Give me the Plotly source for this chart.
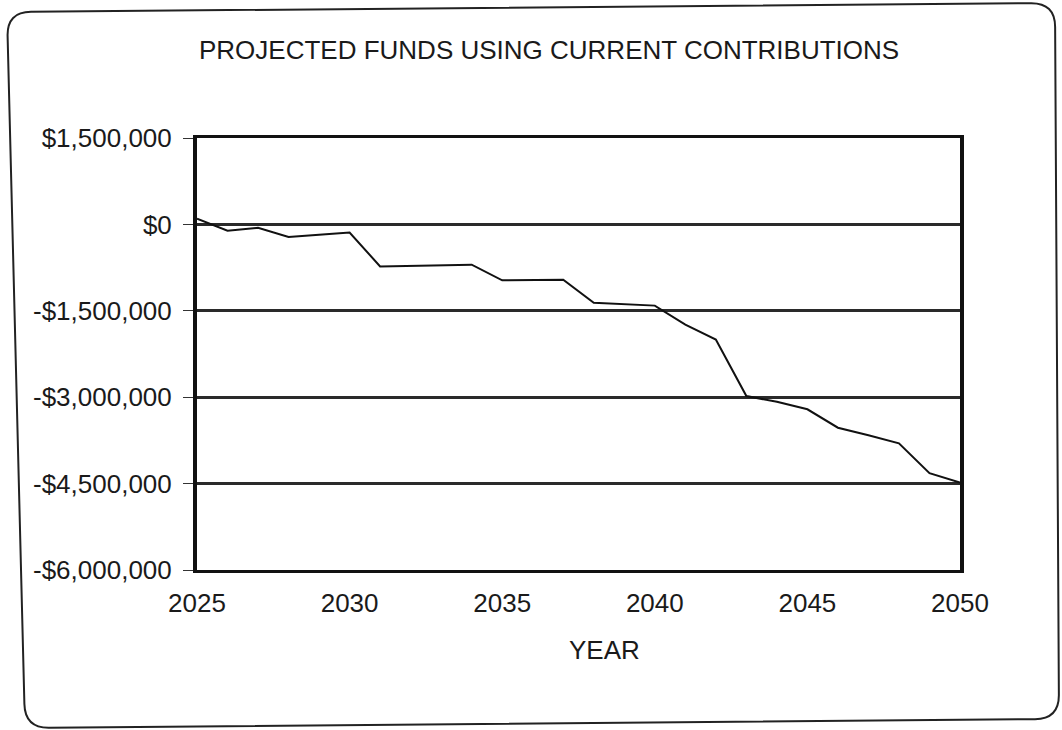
import plotly.graph_objects as go

# Projected fund balance by year (dollars)
years = list(range(2025, 2051))
balance = [
    100000, -110000, -60000, -220000, -180000, -140000,
    -730000, -720000, -700000, -700000, -970000, -960000,
    -960000, -1360000, -1380000, -1410000, -1740000, -2000000,
    -2980000, -3080000, -3210000, -3530000, -3660000, -3800000,
    -4320000, -4480000,
]

y_ticks = [1500000, 0, -1500000, -3000000, -4500000, -6000000]
y_tick_labels = ["$1,500,000", "$0", "-$1,500,000", "-$3,000,000",
                 "-$4,500,000", "-$6,000,000"]
x_ticks = [2025, 2030, 2035, 2040, 2045, 2050]
x_tick_labels = ["2025", "2030", "2035", "2040", "2045", "2050"]

W, H = 1062, 730
L, R, T, B = 197, 102, 138, 160
PW, PH = W - L - R, H - T - B

FONT = "Arial, Liberation Sans, sans-serif"
INK = "#1a1a1a"


def px(x):
    return (x - L) / PW


def py(y):
    return (H - B - y) / PH


def rounded_quad(corners, r):
    """SVG path (paper coords) for a quadrilateral with rounded corners."""
    n = len(corners)
    segs = []
    for i in range(n):
        cx, cy = corners[i]
        ax, ay = corners[i - 1]
        bx, by = corners[(i + 1) % n]
        da = ((ax - cx) ** 2 + (ay - cy) ** 2) ** 0.5
        db = ((bx - cx) ** 2 + (by - cy) ** 2) ** 0.5
        p1 = (cx + (ax - cx) * r / da, cy + (ay - cy) * r / da)
        p2 = (cx + (bx - cx) * r / db, cy + (by - cy) * r / db)
        segs.append((p1, (cx, cy), p2))
    d = ""
    for i, (p1, c, p2) in enumerate(segs):
        d += ("M" if i == 0 else "L") + f"{px(p1[0]):.5f},{py(p1[1]):.5f} "
        d += f"Q{px(c[0]):.5f},{py(c[1]):.5f} {px(p2[0]):.5f},{py(p2[1]):.5f} "
    return d + "Z"


fig = go.Figure()

fig.add_trace(go.Scatter(
    x=years, y=balance, mode="lines",
    line=dict(color="#111111", width=2),
    hoverinfo="x+y", showlegend=False,
))

fig.update_layout(
    width=W, height=H,
    margin=dict(l=L, r=R, t=T, b=B),
    paper_bgcolor="white", plot_bgcolor="white",
    font=dict(family=FONT, color=INK, size=26),
    showlegend=False,
)

fig.update_xaxes(
    range=[2025, 2050], tickvals=x_ticks, ticktext=x_tick_labels,
    showgrid=False, zeroline=False,
    showline=True, linecolor="#111111", linewidth=3, mirror=True,
    ticks="", ticklabelstandoff=8,
    tickfont=dict(family=FONT, size=26, color=INK),
)
fig.update_yaxes(
    range=[-6000000, 1500000], tickvals=y_ticks, ticktext=y_tick_labels,
    showgrid=True, gridcolor="#2a2a2a", gridwidth=3, zeroline=False,
    showline=True, linecolor="#111111", linewidth=4, mirror=True,
    ticks="outside", ticklen=10, tickwidth=1, tickcolor="#333333",
    ticklabelstandoff=6,
    tickfont=dict(family=FONT, size=26, color=INK),
)

# Chart title and x-axis caption
fig.add_annotation(
    text="PROJECTED FUNDS USING CURRENT CONTRIBUTIONS",
    xref="paper", yref="paper", x=px(549), y=py(50),
    xanchor="center", yanchor="middle", showarrow=False,
    font=dict(family=FONT, size=26, color=INK),
)
fig.add_annotation(
    text="YEAR",
    xref="paper", yref="paper", x=px(604), y=py(650),
    xanchor="center", yanchor="middle", showarrow=False,
    font=dict(family=FONT, size=26, color=INK),
)

# Rounded frame around the whole chart
frame = [(7, 12), (1055, 3), (1059, 719), (25, 728)]
fig.add_shape(
    type="path", xref="paper", yref="paper",
    path=rounded_quad(frame, 24),
    line=dict(color="#222222", width=2), fillcolor="rgba(0,0,0,0)",
    layer="below",
)

fig.write_html("out.html")
